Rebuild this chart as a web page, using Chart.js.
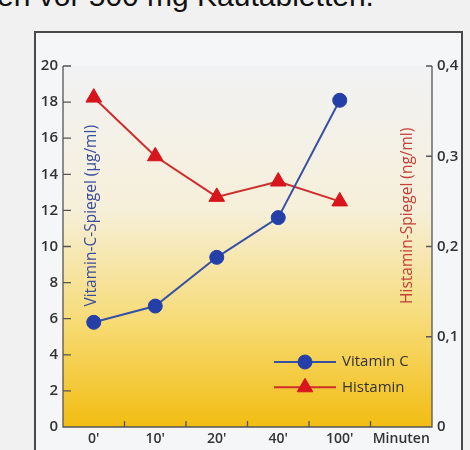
<!DOCTYPE html>
<html lang="de">
<head>
    <meta charset="UTF-8">
    <title>Vitamin C und Histamin</title>
    <script src="https://cdn.jsdelivr.net/npm/chart.js"></script>
    <style>
        html, body {
            margin: 0;
            padding: 0;
            background: #f1f1f1;
            width: 470px;
            height: 450px;
            overflow: hidden;
            font-family: "Open Sans", "Noto Sans", sans-serif;
        }
        #caption {
            position: absolute;
            left: -3px;
            top: -21px;
            font-family: "Liberation Sans", Arial, sans-serif;
            font-size: 30px;
            color: #111;
            white-space: nowrap;
        }
        #frame {
            position: absolute;
            left: 34px;
            top: 31px;
            width: 425px;
            height: 440px;
            border: 2px solid #4a4a4a;
            background: #f5f6f8;
        }
        #chart-box {
            position: absolute;
            left: 0;
            top: 0;
            width: 470px;
            height: 450px;
        }
    </style>
</head>
<body>
    <div id="caption">en vor 500 mg Kautabletten.</div>
    <div id="frame"></div>
    <div id="chart-box">
        <canvas id="chart" width="470" height="450"></canvas>
    </div>

    <script>
        // values
        const categories = ["0'", "10'", "20'", "40'", "100'", "Minuten"];
        const vitaminC = [5.8, 6.7, 9.4, 11.6, 18.1, null];
        const histamin = [0.365, 0.30, 0.255, 0.272, 0.25, null];
        const leftTicks = [0, 2, 4, 6, 8, 10, 12, 14, 16, 18, 20];
        const rightTicks = [0, 0.1, 0.2, 0.3, 0.4];

        const blue = "#2440a8";
        const blueLine = "#3650a6";
        const red = "#d8141c";
        const redLine = "#cf2c2c";
        const axisColor = "#555";
        const textColor = "#333";
        const tickFont = { family: "'Open Sans', sans-serif", size: 15, weight: "600" };

        // gradient background + axes, ticks, titles, legend
        const decor = {
            id: "decor",
            beforeDatasetsDraw(chart) {
                const { ctx, chartArea: a } = chart;
                const g = ctx.createLinearGradient(0, a.top, 0, a.bottom);
                g.addColorStop(0, "#f1f2f4");
                g.addColorStop(0.4, "#f6efd9");
                g.addColorStop(0.7, "#f7dc78");
                g.addColorStop(1, "#f2bd12");
                ctx.save();
                ctx.fillStyle = g;
                ctx.fillRect(a.left, a.top, a.right - a.left, a.bottom - a.top);

                ctx.strokeStyle = axisColor;
                ctx.lineWidth = 1.3;
                ctx.beginPath();
                // axis lines
                ctx.moveTo(a.left, a.top);
                ctx.lineTo(a.left, a.bottom);
                ctx.lineTo(a.right, a.bottom);
                ctx.lineTo(a.right, a.top);
                // left ticks
                const y = chart.scales.y;
                leftTicks.forEach(v => {
                    const py = y.getPixelForValue(v);
                    ctx.moveTo(a.left, py);
                    ctx.lineTo(a.left + 8, py);
                });
                // right ticks
                const y1 = chart.scales.y1;
                rightTicks.forEach(v => {
                    const py = y1.getPixelForValue(v);
                    ctx.moveTo(a.right - 6, py);
                    ctx.lineTo(a.right, py);
                });
                // x ticks between categories
                const x = chart.scales.x;
                for (let i = 0; i < categories.length - 1; i++) {
                    const px = (x.getPixelForValue(i) + x.getPixelForValue(i + 1)) / 2;
                    ctx.moveTo(px, a.bottom);
                    ctx.lineTo(px, a.bottom - 6);
                }
                ctx.stroke();

                // axis titles inside the plot
                ctx.font = "15.5px 'Open Sans', sans-serif";
                ctx.textAlign = "center";
                ctx.textBaseline = "middle";
                ctx.save();
                ctx.translate(a.left + 29, y.getPixelForValue(11.7));
                ctx.rotate(-Math.PI / 2);
                ctx.fillStyle = "#3a4c9c";
                ctx.fillText("Vitamin-C-Spiegel (µg/ml)", 0, 0);
                ctx.restore();
                ctx.save();
                ctx.translate(a.right - 24, y1.getPixelForValue(0.234));
                ctx.rotate(-Math.PI / 2);
                ctx.fillStyle = "#c5403a";
                ctx.fillText("Histamin-Spiegel (ng/ml)", 0, 0);
                ctx.restore();
                ctx.restore();
            },
            afterDraw(chart) {
                const { ctx, chartArea: a } = chart;
                const y = chart.scales.y;
                const items = [
                    { label: "Vitamin C", color: blueLine, fill: blue, style: "circle", r: 7, v: 3.6 },
                    { label: "Histamin", color: redLine, fill: red, style: "triangle", r: 9, v: 2.2 }
                ];
                ctx.save();
                items.forEach(it => {
                    const py = y.getPixelForValue(it.v);
                    const x0 = a.left + 211;
                    ctx.strokeStyle = it.color;
                    ctx.lineWidth = 2;
                    ctx.beginPath();
                    ctx.moveTo(x0, py);
                    ctx.lineTo(x0 + 62, py);
                    ctx.stroke();
                    ctx.fillStyle = it.fill;
                    ctx.strokeStyle = it.fill;
                    ctx.lineWidth = 1;
                    Chart.helpers.drawPoint(ctx, { pointStyle: it.style, radius: it.r, borderWidth: 1 }, x0 + 31, py);
                    ctx.fillStyle = textColor;
                    ctx.font = "15px 'Open Sans', sans-serif";
                    ctx.textAlign = "left";
                    ctx.textBaseline = "middle";
                    ctx.fillText(it.label, x0 + 68, py);
                });
                ctx.restore();
            }
        };

        new Chart(document.getElementById("chart"), {
            type: "line",
            data: {
                labels: categories,
                datasets: [
                    {
                        label: "Vitamin C",
                        data: vitaminC,
                        yAxisID: "y",
                        borderColor: blueLine,
                        backgroundColor: blue,
                        borderWidth: 2,
                        pointStyle: "circle",
                        pointRadius: 7,
                        pointBorderWidth: 1,
                        pointBorderColor: blue,
                        pointBackgroundColor: blue,
                        tension: 0
                    },
                    {
                        label: "Histamin",
                        data: histamin,
                        yAxisID: "y1",
                        borderColor: redLine,
                        backgroundColor: red,
                        borderWidth: 2,
                        pointStyle: "triangle",
                        pointRadius: 9,
                        pointBorderWidth: 1,
                        pointBorderColor: red,
                        pointBackgroundColor: red,
                        tension: 0
                    }
                ]
            },
            options: {
                responsive: false,
                animation: false,
                layout: { padding: { top: 66, left: 0, right: 0, bottom: 0 } },
                plugins: {
                    legend: { display: false },
                    tooltip: { enabled: false }
                },
                scales: {
                    x: {
                        offset: true,
                        grid: { display: false, drawTicks: false },
                        border: { display: false },
                        ticks: {
                            color: textColor,
                            padding: 4,
                            font: { family: "'Open Sans', sans-serif", size: 14, weight: "600" },
                            maxRotation: 0,
                            autoSkip: false
                        },
                        afterFit: s => { s.height = 23; }
                    },
                    y: {
                        position: "left",
                        min: 0,
                        max: 20,
                        grid: { display: false, drawTicks: false },
                        border: { display: false },
                        afterBuildTicks: s => { s.ticks = leftTicks.map(v => ({ value: v })); },
                        ticks: { color: textColor, padding: 5, font: tickFont },
                        afterFit: s => { s.width = 63; }
                    },
                    y1: {
                        position: "right",
                        min: 0,
                        max: 0.4,
                        grid: { display: false, drawTicks: false },
                        border: { display: false },
                        afterBuildTicks: s => { s.ticks = rightTicks.map(v => ({ value: v })); },
                        ticks: {
                            color: textColor,
                            padding: 5,
                            font: tickFont,
                            callback: v => v === 0 ? "0" : v.toFixed(1).replace(".", ",")
                        },
                        afterFit: s => { s.width = 38; }
                    }
                }
            },
            plugins: [decor]
        });
    </script>
</body>
</html>
